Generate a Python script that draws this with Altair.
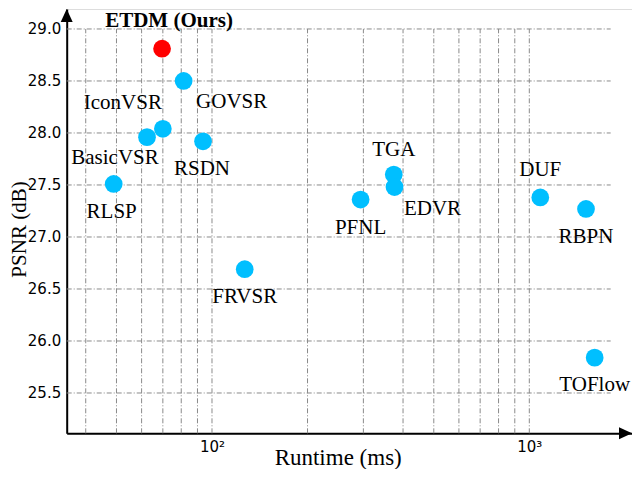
import altair as alt
import pandas as pd

# ---- data ----
methods = ["ETDM (Ours)", "GOVSR", "IconVSR", "BasicVSR", "RSDN", "RLSP",
           "FRVSR", "PFNL", "TGA", "EDVR", "DUF", "RBPN", "TOFlow"]
runtime_ms = [69.6, 81.4, 70.0, 62.4, 93.7, 49.0, 126.8, 294, 374, 376, 1083, 1509, 1607]
psnr_db = [28.81, 28.50, 28.04, 27.96, 27.92, 27.51, 26.69, 27.36, 27.60, 27.48, 27.38, 27.27, 25.84]
is_ours = [True] + [False] * 12

y_ticks = [25.5, 26.0, 26.5, 27.0, 27.5, 28.0, 28.5, 29.0]
x_ticks = [100, 1000]
x_grid = [40, 50, 60, 70, 80, 90, 100, 200, 300, 400, 500, 600, 700, 800, 900, 1000]

# ---- layout / style (not data) ----
label_offsets = {
    "ETDM (Ours)": (7, -28), "GOVSR": (48, 21), "IconVSR": (-40, -26),
    "BasicVSR": (-32, 21), "RSDN": (-1, 28), "RLSP": (-2, 28),
    "FRVSR": (0, 28), "PFNL": (0, 28), "TGA": (0, -25), "EDVR": (38, 22),
    "DUF": (0, -27), "RBPN": (0, 28), "TOFlow": (0, 27),
}
X_MIN, X_MAX = 34.84, 2107
Y_MIN, Y_MAX = 25.1125, 29.192
GRID_X_END = 1805
GRID_Y_END = 29.0
SERIF = "Liberation Serif"
SANS = "DejaVu Sans"

df = pd.DataFrame({"method": methods, "runtime": runtime_ms, "psnr": psnr_db, "ours": is_ours})

xs = alt.Scale(type="log", domain=[X_MIN, X_MAX], nice=False)
ys = alt.Scale(domain=[Y_MIN, Y_MAX], nice=False, zero=False)

x_axis = alt.Axis(values=x_ticks, labelExpr="datum.value == 100 ? '10²' : '10³'",
                  grid=False, ticks=False, domainColor="black", domainWidth=2,
                  labelFont=SANS, labelFontSize=15, labelColor="black", labelPadding=6,
                  title="Runtime (ms)", titleFont=SERIF, titleFontSize=23,
                  titleFontWeight="normal", titleColor="black",
                  titleX=271, titleY=24, titleAlign="center", titleBaseline="middle")
y_axis = alt.Axis(values=y_ticks, format=".1f", grid=False, ticks=False,
                  domainColor="black", domainWidth=2,
                  labelFont=SANS, labelFontSize=15, labelColor="black", labelPadding=6,
                  title="PSNR (dB)", titleFont=SERIF, titleFontSize=21,
                  titleFontWeight="normal", titleColor="black", titleAngle=270,
                  titleX=-47, titleY=220, titleAlign="center", titleBaseline="middle")


def X(field):
    return alt.X(field, scale=xs, axis=x_axis, title="Runtime (ms)")


def Y(field):
    return alt.Y(field, scale=ys, axis=y_axis, title="PSNR (dB)")


grid_style = dict(color="#8a8a8a", strokeWidth=1, strokeDash=[5, 2, 1, 2])

vgrid = alt.Chart(pd.DataFrame({"gx": x_grid, "y0": Y_MIN, "y1": GRID_Y_END})).mark_rule(**grid_style).encode(
    x=X("gx:Q"), y=Y("y0:Q"), y2="y1:Q",
)
hgrid = alt.Chart(pd.DataFrame({"gy": y_ticks, "x0": X_MIN, "x1": GRID_X_END})).mark_rule(**grid_style).encode(
    y=Y("gy:Q"), x=X("x0:Q"), x2="x1:Q",
)

base = alt.Chart(df)

points = base.mark_circle(size=314, opacity=1).encode(
    x=X("runtime:Q"),
    y=Y("psnr:Q"),
    color=alt.Color("ours:N", scale=alt.Scale(domain=[True, False], range=["#ff0000", "#00bfff"]), legend=None),
)

labels = []
for name in methods:
    dx, dy = label_offsets[name]
    bold = name == "ETDM (Ours)"
    labels.append(
        base.transform_filter(alt.datum.method == name).mark_text(
            dx=dx, dy=dy, font=SERIF, fontSize=21, fontWeight="bold" if bold else "normal",
            color="black", align="center", baseline="middle",
        ).encode(x=X("runtime:Q"), y=Y("psnr:Q"), text="method:N")
    )

arrow_up = alt.Chart(pd.DataFrame({"ax": [X_MIN], "ay": [Y_MAX]})).mark_point(
    shape="M0,0L-0.46,1L0.46,1Z", size=676, filled=True, color="black", opacity=1, strokeWidth=0,
).encode(x=X("ax:Q"), y=Y("ay:Q"))

arrow_right = alt.Chart(pd.DataFrame({"ax": [X_MAX], "ay": [Y_MIN]})).mark_point(
    shape="M0,0L-1,-0.46L-1,0.46Z", size=676, filled=True, color="black", opacity=1, strokeWidth=0,
).encode(x=X("ax:Q"), y=Y("ay:Q"))

chart = alt.layer(vgrid, hgrid, points, *labels, arrow_up, arrow_right).properties(
    width=565.3,
    height=424.3,
    autosize=alt.AutoSizeParams(type="none"),
    padding={"left": 58.7, "top": 1, "right": 0, "bottom": 35.7},
).configure_view(strokeWidth=0).configure(background="white")

chart.save("out.html", embed_options={"renderer": "svg", "actions": False})
